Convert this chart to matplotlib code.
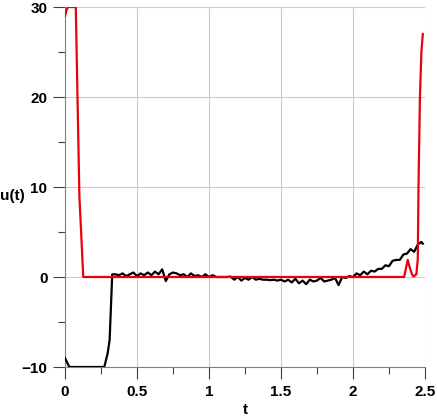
"""
Control signal u(t) - two trajectories (black, red)
"""

import matplotlib
matplotlib.use('Agg')
import matplotlib.pyplot as plt
from matplotlib.ticker import MultipleLocator
import numpy as np

plt.rcParams['font.family'] = ['Liberation Sans', 'DejaVu Sans']
plt.rcParams['font.weight'] = 'bold'

# black trajectory: saturation start, then noisy part on a 0.025 grid
black_t_start = [0.0, 0.03, 0.273, 0.296, 0.31, 0.32, 0.328]
black_u_start = [-9.0, -10.0, -10.0, -8.5, -7.0, -3.0, 0.3]

black_t_noisy = np.round(np.arange(0.35, 2.476, 0.025), 3)
black_u_noisy = [
    0.3, 0.2, 0.4, 0.1, 0.3, 0.5, 0.1, 0.4, 0.2, 0.5,
    0.2, 0.6, 0.3, 0.85, -0.45, 0.3, 0.5, 0.4, 0.2, 0.3,
    0.0, 0.4, 0.1, 0.2, 0.0, 0.3, 0.0, 0.2, 0.0, 0.0,
    0.0, 0.0, 0.05, -0.3, 0.0, -0.4, -0.1, -0.3, 0.0, -0.3,
    -0.2, -0.3, -0.3, -0.35, -0.3, -0.4, -0.3, -0.5, -0.3, -0.6,
    -0.2, -0.7, -0.4, -0.8, -0.3, -0.5, -0.4, -0.1, -0.5, -0.4,
    -0.3, -0.1, -0.9, 0.0, -0.1, 0.1, 0.0, 0.4, 0.2, 0.6,
    0.3, 0.7, 0.6, 0.9, 0.9, 1.3, 1.2, 1.8, 1.9, 1.9,
    2.5, 2.6, 3.1, 2.8, 3.6, 3.9,
]
black_t_end = [2.485]
black_u_end = [3.7]

# red trajectory
red_t = [0.0, 0.01, 0.02, 0.075, 0.1, 0.127, 2.355, 2.38, 2.395, 2.41,
         2.42, 2.44, 2.45, 2.455, 2.465, 2.475, 2.485]
red_u = [29.0, 29.6, 30.0, 30.0, 9.0, 0.0, 0.0, 1.9, 1.0, 0.3,
         0.05, 0.3, 2.0, 10.0, 20.0, 25.0, 27.0]

black_t = np.concatenate([black_t_start, black_t_noisy[:len(black_u_noisy)], black_t_end])
black_u = np.concatenate([black_u_start, black_u_noisy, black_u_end])

fig = plt.figure(figsize=(4.37, 4.17), dpi=100)
ax = fig.add_axes([0.1487, 0.1199, 0.8238, 0.8633])

ax.plot(black_t, black_u, color='black', linewidth=1.6, zorder=3)
ax.plot(red_t, red_u, color='#e8000b', linewidth=1.6, zorder=4)

ax.set_xlim(0, 2.5)
ax.set_ylim(-10, 30)
ax.xaxis.set_minor_locator(MultipleLocator(0.25))
ax.yaxis.set_major_locator(MultipleLocator(10))
ax.yaxis.set_minor_locator(MultipleLocator(5))
ax.set_xticks([0, 0.5, 1, 1.5, 2, 2.5])
ax.set_xticklabels(['0', '0.5', '1', '1.5', '2', '2.5'])

ax.grid(True, which='major', color='#cccccc', linewidth=0.8, zorder=0)
for side in ['top', 'right']:
    ax.spines[side].set_visible(False)
for side in ['left', 'bottom']:
    ax.spines[side].set_color('#808080')
    ax.spines[side].set_linewidth(0.8)

ax.tick_params(which='major', length=8.6, width=0.8, color='#404040',
               labelsize=11, pad=4)
ax.tick_params(which='minor', length=5, width=0.8, color='#404040')
for lbl in ax.get_xticklabels() + ax.get_yticklabels():
    lbl.set_fontweight('bold')

ax.set_xlabel('t', fontsize=11, fontweight='bold')
ax.set_ylabel('u(t)', fontsize=11, fontweight='bold', rotation=0)
ax.yaxis.set_label_coords(-0.145, 0.455)
ax.xaxis.set_label_coords(0.5, -0.1)

plt.savefig('out.png', dpi=100)
